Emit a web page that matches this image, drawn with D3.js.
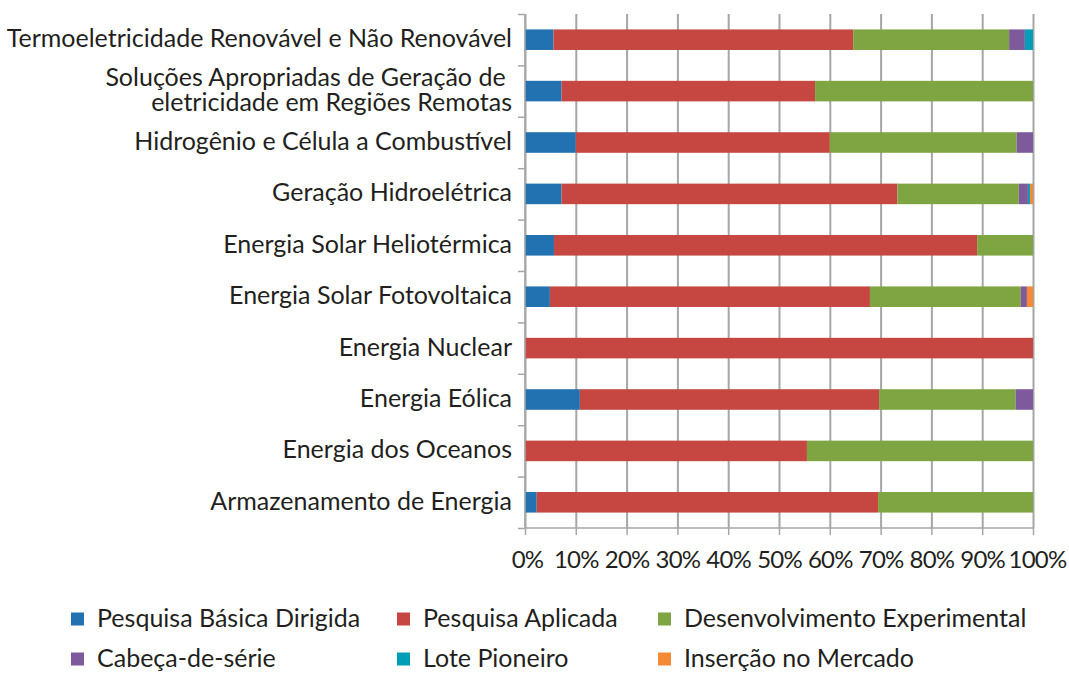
<!DOCTYPE html>
<html>
<head>
<meta charset="utf-8">
<script src="https://cdn.jsdelivr.net/npm/d3@7"></script>
<style>
  body { margin: 0; background: #fff; }
  svg text { font-family: Lato, "Open Sans", sans-serif; fill: #231f20; }
  .axis path, .axis line { stroke: #a6a6a6; stroke-width: 1.5; }
  .grid line { stroke: #a6a6a6; stroke-width: 2; }
  .grid path { display: none; }
</style>
</head>
<body>
<div id="chart"></div>
<script>
// categories, top to bottom
const categories = [
  "Termoeletricidade Renovável e Não Renovável",
  "Soluções Apropriadas de Geração de \neletricidade em Regiões Remotas",
  "Hidrogênio e Célula a Combustível",
  "Geração Hidroelétrica",
  "Energia Solar Heliotérmica",
  "Energia Solar Fotovoltaica",
  "Energia Nuclear",
  "Energia Eólica",
  "Energia dos Oceanos",
  "Armazenamento de Energia"
];

const seriesNames = [
  "Pesquisa Básica Dirigida",
  "Pesquisa Aplicada",
  "Desenvolvimento Experimental",
  "Cabeça-de-série",
  "Lote Pioneiro",
  "Inserção no Mercado"
];

// % per category (same order as categories)
const pesquisaBasica   = [5.6, 7.2, 10.0, 7.2, 5.7, 4.9, 0, 10.8, 0, 2.3];
const pesquisaAplicada = [59.0, 49.9, 50.0, 66.1, 83.3, 63.0, 100, 58.9, 55.5, 67.2];
const desenvolvimento  = [30.7, 42.9, 36.8, 23.9, 11.0, 29.7, 0, 26.9, 44.5, 30.5];
const cabecaDeSerie    = [3.1, 0, 3.2, 1.8, 0, 1.2, 0, 3.4, 0, 0];
const lotePioneiro     = [1.6, 0, 0, 0.4, 0, 0, 0, 0, 0, 0];
const insercaoMercado  = [0, 0, 0, 0.6, 0, 1.2, 0, 0, 0, 0];

const xTicks = [0, 10, 20, 30, 40, 50, 60, 70, 80, 90, 100];

const colors = ["#2271b1", "#c64741", "#7fa542", "#7e599b", "#009db6", "#f58934"];

const width = 1069, height = 673;
const plot = { left: 525, right: 1033, top: 14, bottom: 528 };

const rows = categories.map((c, i) => ({
  cat: c,
  [seriesNames[0]]: pesquisaBasica[i],
  [seriesNames[1]]: pesquisaAplicada[i],
  [seriesNames[2]]: desenvolvimento[i],
  [seriesNames[3]]: cabecaDeSerie[i],
  [seriesNames[4]]: lotePioneiro[i],
  [seriesNames[5]]: insercaoMercado[i]
}));

const stacked = d3.stack().keys(seriesNames)(rows);

const x = d3.scaleLinear().domain([0, 100]).range([plot.left, plot.right]);
const y = d3.scaleBand().domain(categories).range([plot.top, plot.bottom])
  .paddingInner(0.6).paddingOuter(0.3);
const color = d3.scaleOrdinal().domain(seriesNames).range(colors);

const svg = d3.select("#chart").append("svg")
  .attr("width", width)
  .attr("height", height);

// vertical gridlines, behind the bars
svg.append("g")
  .attr("class", "grid")
  .attr("transform", "translate(0," + plot.bottom + ")")
  .call(d3.axisBottom(x).tickValues(xTicks).tickSize(-(plot.bottom - plot.top)).tickFormat(() => ""));

svg.append("g")
  .selectAll("g")
  .data(stacked)
  .join("g")
  .attr("fill", d => color(d.key))
  .selectAll("rect")
  .data(d => d)
  .join("rect")
  .attr("x", d => x(d[0]))
  .attr("y", d => y(d.data.cat))
  .attr("width", d => x(d[1]) - x(d[0]))
  .attr("height", y.bandwidth());

// x axis
svg.append("g")
  .attr("class", "axis")
  .attr("transform", "translate(0," + plot.bottom + ")")
  .call(d3.axisBottom(x).tickValues(xTicks).tickSize(7).tickPadding(16)
    .tickFormat(d => d + "%"))
  .call(g => g.select(".domain").attr("d", "M" + plot.left + ",0H" + plot.right))
  .selectAll("text")
  .attr("font-size", 24)
  .attr("letter-spacing", "-0.8px")
  .attr("x", d => d === 100 ? 4 : (d === 0 ? 2 : 0));

// y axis: ticks between categories
const yEdges = d3.scaleLinear().domain([0, categories.length]).range([plot.top, plot.bottom]);
svg.append("g")
  .attr("class", "axis")
  .attr("transform", "translate(" + plot.left + ",0)")
  .call(d3.axisLeft(yEdges).ticks(categories.length).tickSize(7).tickFormat(() => ""))
  .call(g => g.select(".domain").attr("d", "M0," + plot.top + "V" + plot.bottom));

// category labels
const labels = svg.append("g")
  .attr("transform", "translate(" + plot.left + ",0)")
  .call(d3.axisLeft(y).tickSize(0).tickPadding(13));
labels.select(".domain").remove();
labels.selectAll("text")
  .attr("font-size", 25)
  .each(function (d) {
    const lines = d.split("\n");
    const t = d3.select(this).text(null).attr("dy", null);
    lines.forEach((ln, i) => {
      t.append("tspan")
        .attr("x", -13)
        .attr("dy", i === 0 ? (0.3 - (lines.length - 1) * 0.5) + "em" : "1em")
        .attr("xml:space", "preserve")
        .text(ln);
    });
  });

// legend
const legendPos = [
  [71, 619], [397, 619], [658, 619],
  [71, 659], [397, 659], [658, 659]
];
const legend = svg.append("g")
  .selectAll("g")
  .data(seriesNames)
  .join("g")
  .attr("transform", (d, i) => "translate(" + legendPos[i][0] + "," + legendPos[i][1] + ")");
legend.append("rect")
  .attr("x", 0).attr("y", -6.5)
  .attr("width", 13).attr("height", 13)
  .attr("fill", d => color(d));
legend.append("text")
  .attr("x", 26)
  .attr("dy", "0.33em")
  .attr("font-size", 25)
  .text(d => d);
</script>
</body>
</html>
